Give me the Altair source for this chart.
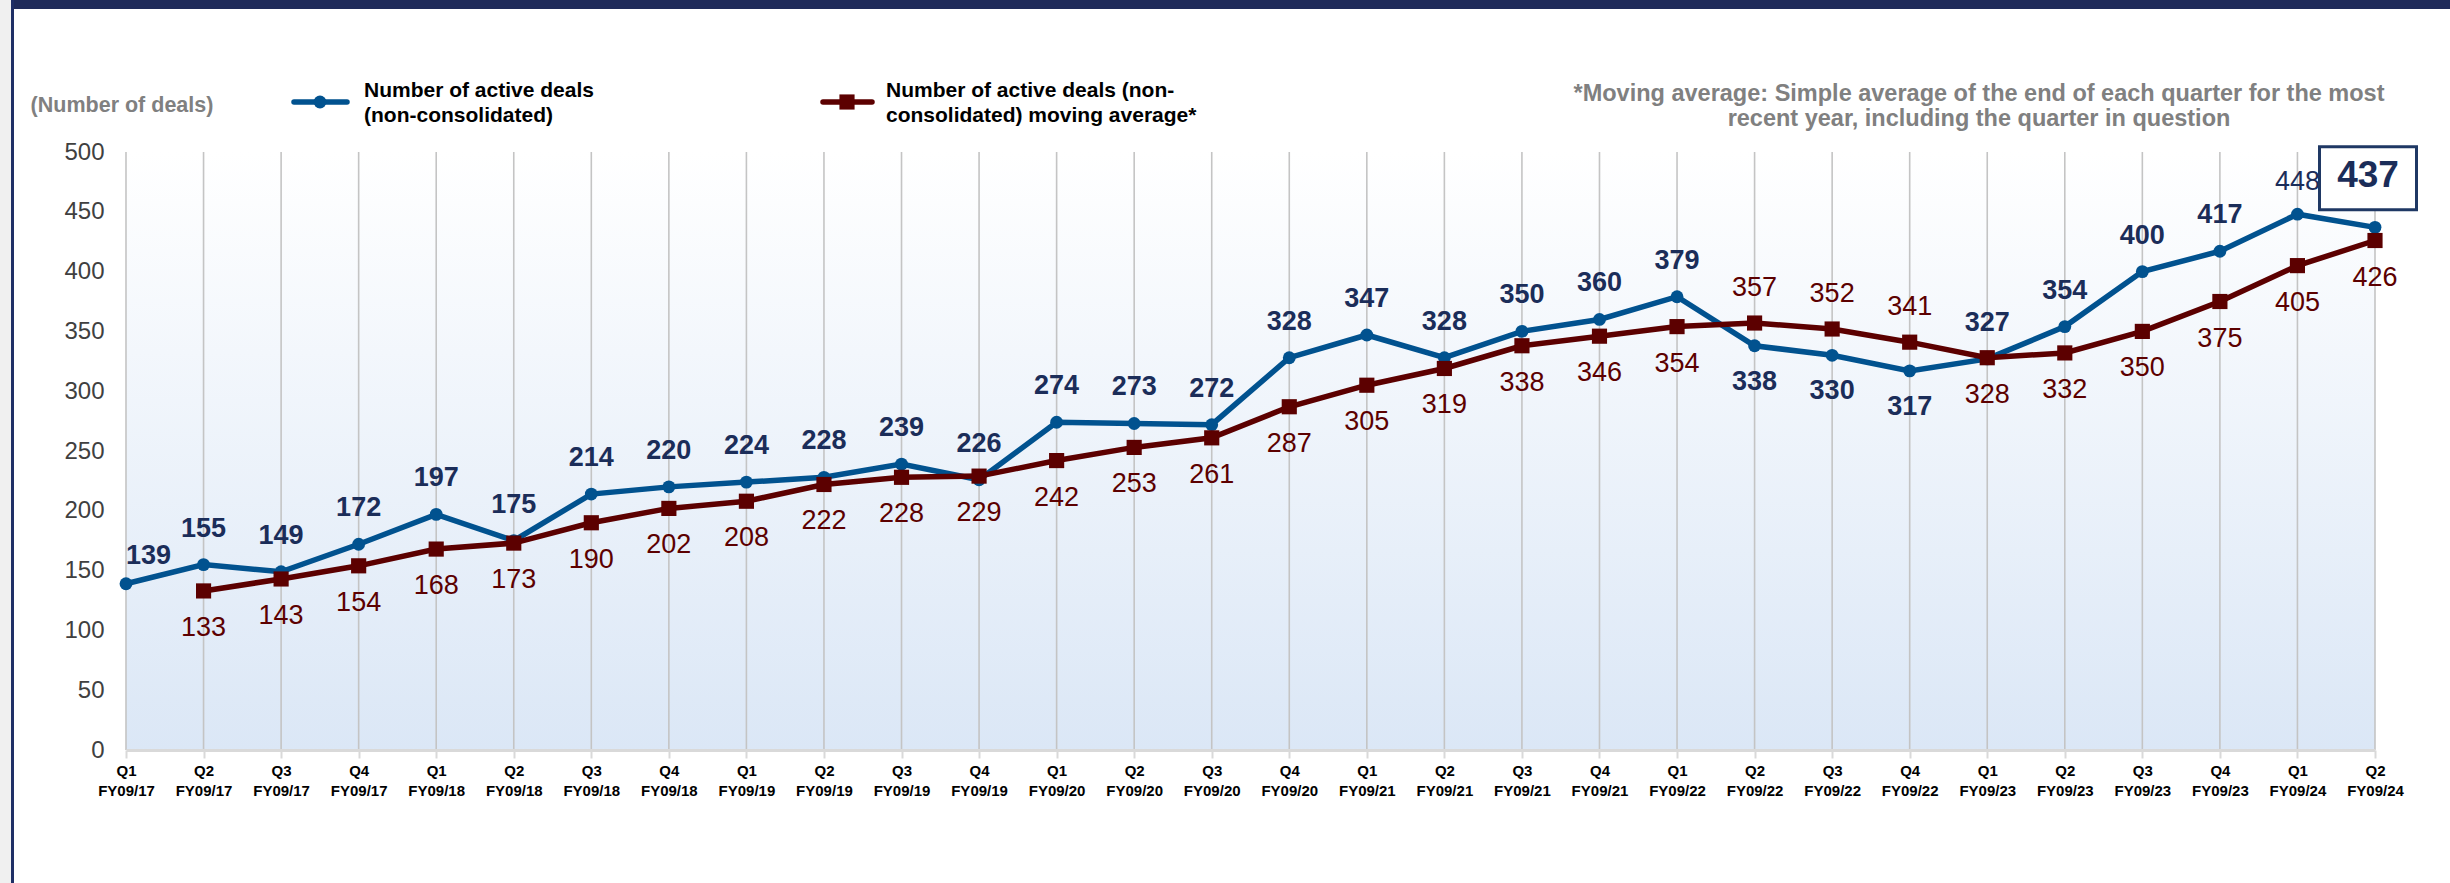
import altair as alt
import pandas as pd

# ---------------- data ----------------
quarters = [
    "Q1 FY09/17", "Q2 FY09/17", "Q3 FY09/17", "Q4 FY09/17",
    "Q1 FY09/18", "Q2 FY09/18", "Q3 FY09/18", "Q4 FY09/18",
    "Q1 FY09/19", "Q2 FY09/19", "Q3 FY09/19", "Q4 FY09/19",
    "Q1 FY09/20", "Q2 FY09/20", "Q3 FY09/20", "Q4 FY09/20",
    "Q1 FY09/21", "Q2 FY09/21", "Q3 FY09/21", "Q4 FY09/21",
    "Q1 FY09/22", "Q2 FY09/22", "Q3 FY09/22", "Q4 FY09/22",
    "Q1 FY09/23", "Q2 FY09/23", "Q3 FY09/23", "Q4 FY09/23",
    "Q1 FY09/24", "Q2 FY09/24",
]
active_deals = [139, 155, 149, 172, 197, 175, 214, 220, 224, 228, 239, 226,
                274, 273, 272, 328, 347, 328, 350, 360, 379, 338, 330, 317,
                327, 354, 400, 417, 448, 437]
moving_average = [None, 133, 143, 154, 168, 173, 190, 202, 208, 222, 228, 229,
                  242, 253, 261, 287, 305, 319, 338, 346, 354, 357, 352, 341,
                  328, 332, 350, 375, 405, 426]

y_ticks = [0, 50, 100, 150, 200, 250, 300, 350, 400, 450, 500]

# label placement groups (by category)
active_below = ["Q2 FY09/22", "Q3 FY09/22", "Q4 FY09/22"]
average_above = ["Q2 FY09/22", "Q3 FY09/22", "Q4 FY09/22"]
first_q = quarters[0]
plain_q = quarters[-2]
boxed_q = quarters[-1]

series_labels = [
    ["Number of active deals", "(non-consolidated)"],
    ["Number of active deals (non-", "consolidated) moving average*"],
]
unit_label = "(Number of deals)"
note_lines = [
    "*Moving average: Simple average of the end of each quarter for the most",
    "recent year, including the quarter in question",
]

df = pd.DataFrame({"quarter": quarters, "active": active_deals, "avg": moving_average})

# ---------------- style ----------------
W, H = 2249, 598
PAD_L, PAD_T = 126, 152
FONT = "Liberation Sans, Arial, sans-serif"
BLUE = "#01528F"
RED = "#5C0000"
NAVY_TXT = "#1B2D59"
NAVY = "#1F2B5A"
GRAY_TXT = "#808080"
LBL = 27

x_enc = alt.X(
    "quarter:N", sort=quarters,
    scale=alt.Scale(type="point", padding=0),
    axis=alt.Axis(
        title=None, labelExpr="split(datum.label, ' ')", labelAngle=0,
        labelFont=FONT, labelFontSize=15, labelFontWeight="bold", labelColor="#000000",
        labelLineHeight=20, labelPadding=5, labelBaseline="top",
        domainColor="#D9D9D9", domainWidth=3, tickColor="#D9D9D9", tickWidth=2,
        tickSize=8, grid=False, zindex=1,
    ),
)
y_scale = alt.Scale(domain=[0, 500], nice=False, zero=True)
y_axis = alt.Axis(
    title=None, values=y_ticks, domain=False, ticks=False, grid=False,
    labelFont=FONT, labelFontSize=24, labelColor="#404040", labelPadding=22,
)

base = alt.Chart(df).encode(x=x_enc)
one = alt.Data(values=[{}])

# plot background gradient
bg = alt.Chart(one).mark_rect(
    fill=alt.Gradient(
        gradient="linear", x1=0, x2=0, y1=0, y2=1,
        stops=[alt.GradientStop(color="#FFFFFF", offset=0),
               alt.GradientStop(color="#DBE7F6", offset=1)],
    )
).encode(x=alt.value(0), x2=alt.value(W), y=alt.value(0), y2=alt.value(H))

# vertical grid lines at every quarter
grid = base.mark_rule(color="#C4C4C4", strokeWidth=1.6).encode(
    y=alt.value(0), y2=alt.value(H)
)

y_active = alt.Y("active:Q", scale=y_scale, axis=y_axis)
y_avg = alt.Y("avg:Q", scale=y_scale, axis=y_axis)

line_a = base.mark_line(color=BLUE, strokeWidth=5.5).encode(y=y_active)
pts_a = base.mark_point(shape="circle", filled=True, color=BLUE, size=165, opacity=1).encode(y=y_active)

avg_base = base.transform_filter("datum.avg != null")
line_m = avg_base.mark_line(color=RED, strokeWidth=5.5).encode(y=y_avg)
pts_m = avg_base.mark_point(shape="square", filled=True, color=RED, size=230, opacity=1).encode(y=y_avg)

def oneof(lst):
    return alt.FieldOneOfPredicate(field="quarter", oneOf=lst)

txt_a = dict(font=FONT, fontSize=LBL, color=NAVY_TXT, baseline="middle")
lab_a_above = base.transform_filter(
    ~oneof(active_below + [first_q, plain_q, boxed_q])
).mark_text(fontWeight="bold", dy=-36, **txt_a).encode(y=y_active, text="active:Q")
lab_a_first = base.transform_filter(oneof([first_q])).mark_text(
    fontWeight="bold", dy=-28, align="left", **txt_a
).encode(y=y_active, text="active:Q")
lab_a_plain = base.transform_filter(oneof([plain_q])).mark_text(
    fontWeight="normal", dy=-32, **txt_a
).encode(y=y_active, text="active:Q")
lab_a_below = base.transform_filter(oneof(active_below)).mark_text(
    fontWeight="bold", dy=36, **txt_a
).encode(y=y_active, text="active:Q")

box = base.transform_filter(oneof([boxed_q])).mark_rect(
    width=97, height=63, xOffset=-7, yOffset=-49,
    fill="#FFFFFF", stroke="#1F3864", strokeWidth=3,
).encode(y=y_active)
box_txt = base.transform_filter(oneof([boxed_q])).mark_text(
    font=FONT, fontSize=37, fontWeight="bold", color=NAVY_TXT, baseline="middle",
    dx=-7, dy=-51,
).encode(y=y_active, text="active:Q")

txt_m = dict(font=FONT, fontSize=LBL, color=RED, baseline="middle", fontWeight="normal")
lab_m_below = avg_base.transform_filter(~oneof(average_above)).mark_text(dy=37, **txt_m).encode(
    y=y_avg, text="avg:Q")
lab_m_above = avg_base.transform_filter(oneof(average_above)).mark_text(dy=-35, **txt_m).encode(
    y=y_avg, text="avg:Q")

# ---------------- legend / notes / frame ----------------
leg_y = -50
leg1_line = alt.Chart(one).mark_rule(color=BLUE, strokeWidth=5.5, strokeCap="round").encode(
    x=alt.value(168), x2=alt.value(221), y=alt.value(leg_y))
leg1_pt = alt.Chart(one).mark_point(shape="circle", filled=True, color=BLUE, size=165, opacity=1).encode(
    x=alt.value(194), y=alt.value(leg_y))
leg1_txt = alt.Chart(one).mark_text(
    text=series_labels[0], font=FONT, fontSize=21, fontWeight="bold", color="#000000",
    align="left", baseline="middle", lineHeight=25,
).encode(x=alt.value(238), y=alt.value(-61))

leg2_line = alt.Chart(one).mark_rule(color=RED, strokeWidth=5.5, strokeCap="round").encode(
    x=alt.value(697), x2=alt.value(746), y=alt.value(leg_y))
leg2_pt = alt.Chart(one).mark_point(shape="square", filled=True, color=RED, size=230, opacity=1).encode(
    x=alt.value(721), y=alt.value(leg_y))
leg2_txt = alt.Chart(one).mark_text(
    text=series_labels[1], font=FONT, fontSize=21, fontWeight="bold", color="#000000",
    align="left", baseline="middle", lineHeight=25,
).encode(x=alt.value(760), y=alt.value(-61))

unit_txt = alt.Chart(one).mark_text(
    text=unit_label, font=FONT, fontSize=21.5, fontWeight="bold", color=GRAY_TXT,
    align="center", baseline="middle",
).encode(x=alt.value(-4), y=alt.value(-46))

note_txt = alt.Chart(one).mark_text(
    text=note_lines, font=FONT, fontSize=23.5, fontWeight="bold", color=GRAY_TXT,
    align="center", baseline="middle", lineHeight=25,
).encode(x=alt.value(1853), y=alt.value(-58))

top_band = alt.Chart(one).mark_rect(color=NAVY).encode(
    x=alt.value(-PAD_L), x2=alt.value(2450 - PAD_L), y=alt.value(-PAD_T), y2=alt.value(-PAD_T + 9))
left_strip = alt.Chart(one).mark_rect(color="#F0F0F0").encode(
    x=alt.value(-PAD_L), x2=alt.value(-PAD_L + 11), y=alt.value(-PAD_T), y2=alt.value(883 - PAD_T))
left_line = alt.Chart(one).mark_rect(color="#1F2F66").encode(
    x=alt.value(-PAD_L + 11), x2=alt.value(-PAD_L + 14), y=alt.value(-PAD_T), y2=alt.value(883 - PAD_T))

chart = alt.layer(
    bg, grid, line_a, pts_a, line_m, pts_m,
    lab_a_above, lab_a_first, lab_a_plain, lab_a_below,
    lab_m_below, lab_m_above, box, box_txt,
    leg1_line, leg1_pt, leg1_txt, leg2_line, leg2_pt, leg2_txt,
    unit_txt, note_txt, top_band, left_strip, left_line,
).properties(
    width=W, height=H,
    padding={"left": PAD_L, "top": PAD_T, "right": 2450 - PAD_L - W, "bottom": 883 - PAD_T - H},
    autosize=alt.AutoSizeParams(type="none"),
    background="#FFFFFF",
).configure_view(stroke=None)

chart.save("out.html", embed_options={"renderer": "svg", "actions": False})
